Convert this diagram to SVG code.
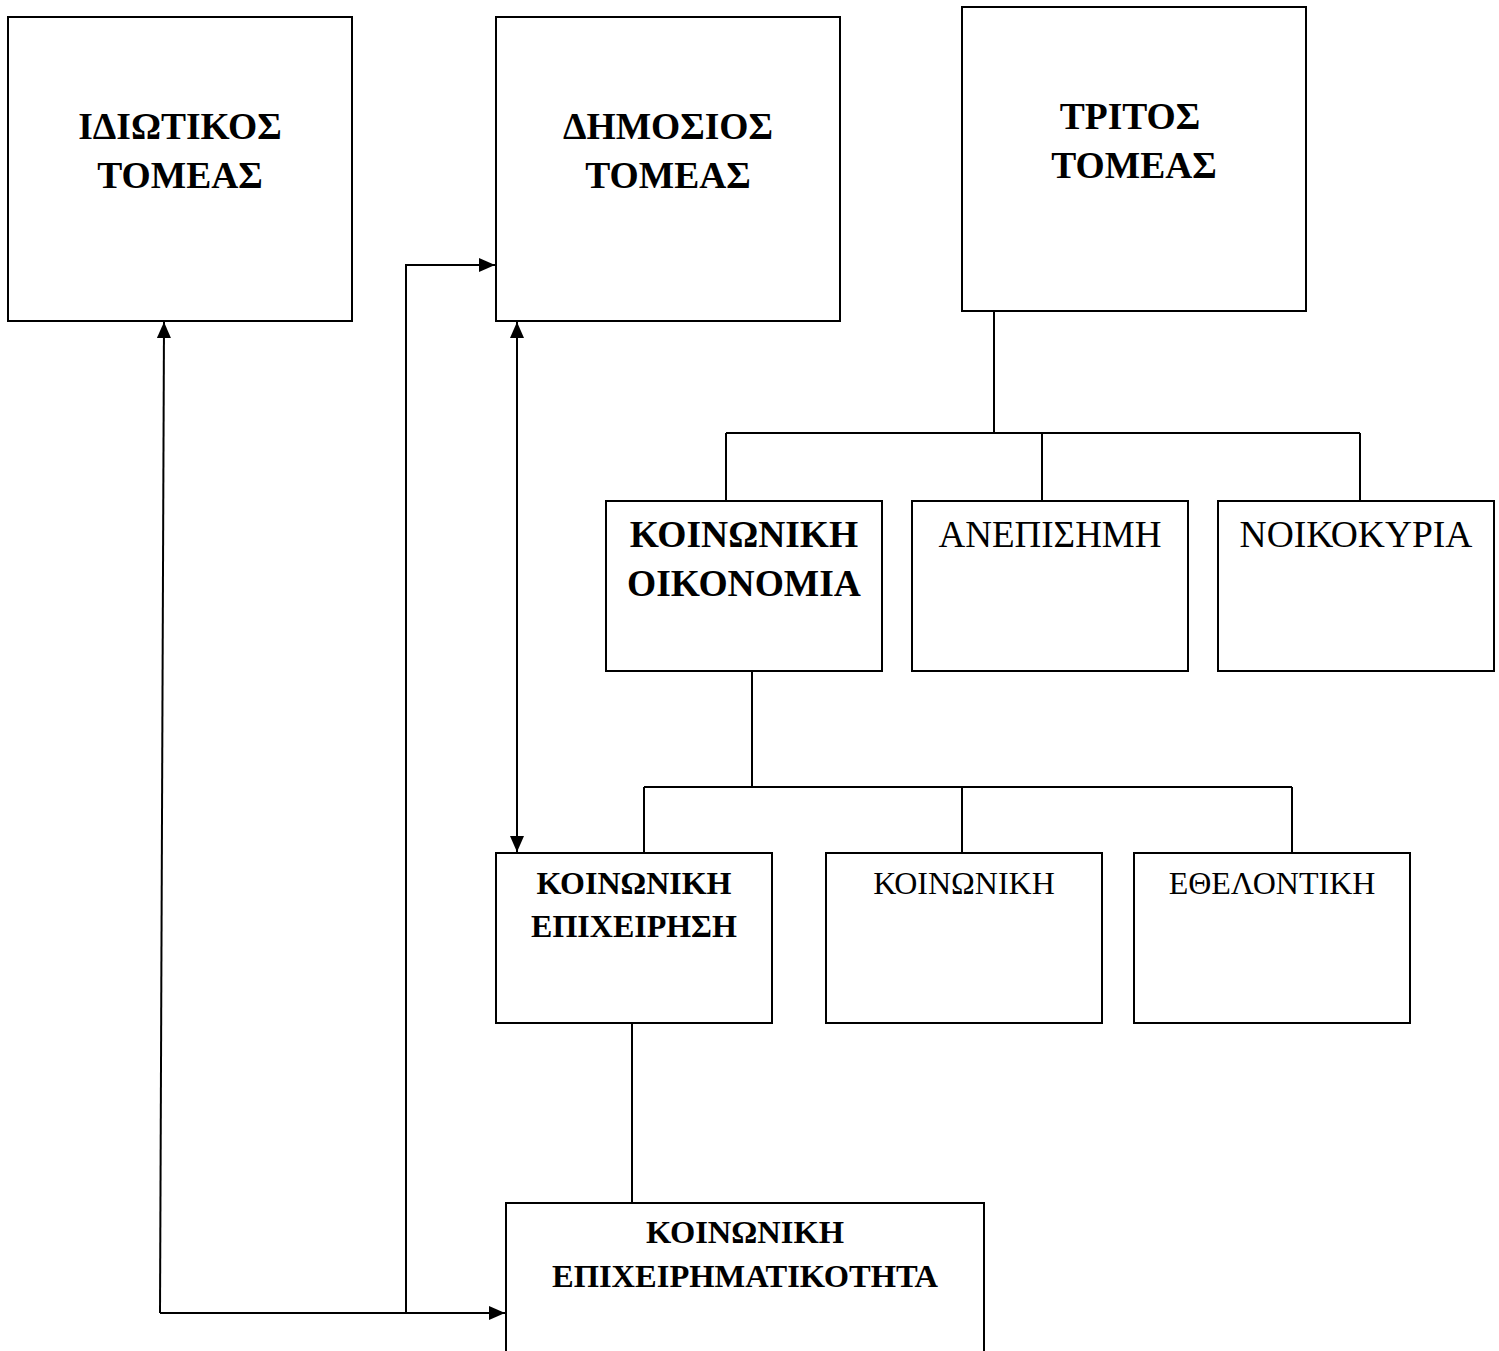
<svg xmlns="http://www.w3.org/2000/svg" width="1499" height="1351" viewBox="0 0 1499 1351">
<style>
.box{fill:#fff;stroke:#000;stroke-width:2}
.ln{fill:none;stroke:#000;stroke-width:2}
.b{font-family:"Liberation Serif","Times New Roman",serif;font-weight:bold;text-anchor:middle;fill:#000}
.r{font-family:"Liberation Serif","Times New Roman",serif;text-anchor:middle;fill:#000}
</style>
<defs>
<marker id="ah" markerWidth="16" markerHeight="14" refX="16" refY="7" orient="auto" markerUnits="userSpaceOnUse">
<path d="M0,0 L16,7 L0,14 Z" fill="#000"/>
</marker>
<marker id="as" markerWidth="16" markerHeight="14" refX="0" refY="7" orient="auto" markerUnits="userSpaceOnUse">
<path d="M16,0 L0,7 L16,14 Z" fill="#000"/>
</marker>
</defs>
<g id="connectors">
<path class="ln" d="M994,311 V433 M726,433 H1360 M726,433 V501 M1042,433 V501 M1360,433 V501"/>
<path class="ln" d="M752,671 V787 M644,787 H1292 M644,787 V853 M962,787 V853 M1292,787 V853"/>
<path class="ln" d="M632,1023 V1203"/>
<path class="ln" d="M160,1313 L164,322" marker-end="url(#ah)"/>
<path class="ln" d="M160,1313 H505" marker-end="url(#ah)"/>
<path class="ln" d="M406,1313 V265 H495" marker-end="url(#ah)"/>
<path class="ln" d="M517,322 V852" marker-start="url(#as)" marker-end="url(#ah)"/>
</g>
<g id="n-idiotikos">
<rect class="box" x="8" y="17" width="344" height="304"/>
<text class="b" x="180" y="139" font-size="37.5">ΙΔΙΩΤΙΚΟΣ</text>
<text class="b" x="180" y="188" font-size="37.5">ΤΟΜΕΑΣ</text>
</g>
<g id="n-dimosios">
<rect class="box" x="496" y="17" width="344" height="304"/>
<text class="b" x="668" y="139" font-size="37.5">ΔΗΜΟΣΙΟΣ</text>
<text class="b" x="668" y="188" font-size="37.5">ΤΟΜΕΑΣ</text>
</g>
<g id="n-tritos">
<rect class="box" x="962" y="7" width="344" height="304"/>
<text class="b" x="1130" y="129" font-size="37.5">ΤΡΙΤΟΣ</text>
<text class="b" x="1134" y="178" font-size="37.5">ΤΟΜΕΑΣ</text>
</g>
<g id="n-koin-oikonomia">
<rect class="box" x="606" y="501" width="276" height="170"/>
<text class="b" x="744" y="547" font-size="37.5">ΚΟΙΝΩΝΙΚΗ</text>
<text class="b" x="744" y="596" font-size="37.5">ΟΙΚΟΝΟΜΙΑ</text>
</g>
<g id="n-anepisimi">
<rect class="box" x="912" y="501" width="276" height="170"/>
<text class="r" x="1050" y="547" font-size="37">ΑΝΕΠΙΣΗΜΗ</text>
</g>
<g id="n-noikokyria">
<rect class="box" x="1218" y="501" width="276" height="170"/>
<text class="r" x="1356" y="547" font-size="37.5">ΝΟΙΚΟΚΥΡΙΑ</text>
</g>
<g id="n-koin-epixeirisi">
<rect class="box" x="496" y="853" width="276" height="170"/>
<text class="b" x="634" y="894" font-size="32">ΚΟΙΝΩΝΙΚΗ</text>
<text class="b" x="634" y="937" font-size="32">ΕΠΙΧΕΙΡΗΣΗ</text>
</g>
<g id="n-koinoniki">
<rect class="box" x="826" y="853" width="276" height="170"/>
<text class="r" x="964" y="894" font-size="32">ΚΟΙΝΩΝΙΚΗ</text>
</g>
<g id="n-ethelontiki">
<rect class="box" x="1134" y="853" width="276" height="170"/>
<text class="r" x="1272" y="894" font-size="32">ΕΘΕΛΟΝΤΙΚΗ</text>
</g>
<g id="n-koin-epixeirimatikotita">
<rect class="box" x="506" y="1203" width="478" height="160"/>
<text class="b" x="745" y="1243" font-size="32.5">ΚΟΙΝΩΝΙΚΗ</text>
<text class="b" x="745" y="1287" font-size="32.5">ΕΠΙΧΕΙΡΗΜΑΤΙΚΟΤΗΤΑ</text>
</g>
</svg>
